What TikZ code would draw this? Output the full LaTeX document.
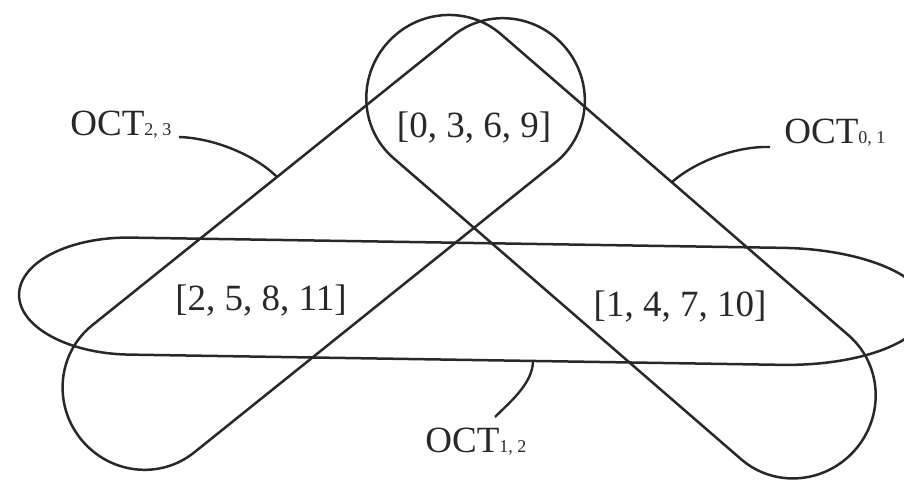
\documentclass[tikz,border=0pt]{standalone}
\usepackage{fontspec}
\setmainfont{Liberation Serif}
\usepackage{xcolor}
\definecolor{ink}{RGB}{40, 40, 40}
\usepackage{tikz}
\usetikzlibrary{calc}

\newcommand{\octsub}[1]{{\fontsize{9}{10}\selectfont #1}}

\begin{document}
\begin{tikzpicture}[
    x=0.5pt, y=-0.5pt,
    loopline/.style={draw=ink, line width=1.25pt},
    setlabel/.style={font=\fontsize{18.5}{20}\selectfont, text=ink, inner sep=0pt},
    octlabel/.style={font=\fontsize{18.5}{20}\selectfont, text=ink, inner sep=0pt, anchor=base west},
    leader/.style={draw=ink, line width=1.2pt}
]
\useasboundingbox (0,0) rectangle (904,481);

% 1. OCT_{2,3} loop (towards bottom left)
\begin{scope}[shift={(323.7,244)}, rotate=38.75]
\draw[loopline] (-231.5,-81.5) -- (231.5,-81.5)
    arc[start angle=-90, end angle=90, x radius=80, y radius=81.5]
    -- (-231.5,81.5)
    arc[start angle=90, end angle=270, x radius=80, y radius=81.5] -- cycle;
\end{scope}

% 2. OCT_{0,1} loop (towards bottom right)
\begin{scope}[shift={(622.5,248)}, rotate=-40.9]
\draw[loopline] (-232,-82) -- (228,-82)
    arc[start angle=-90, end angle=90, x radius=80, y radius=82]
    -- (-232,82)
    arc[start angle=90, end angle=270, x radius=80, y radius=82] -- cycle;
\end{scope}

% 3. OCT_{1,2} loop (horizontal)
\begin{scope}[shift={(473,301.5)}, rotate=-0.9]
\draw[loopline] (-343,-58.5) -- (309,-58.5)
    arc[start angle=-90, end angle=90, x radius=145, y radius=58.5]
    -- (-343,58.5)
    arc[start angle=90, end angle=270, x radius=111, y radius=58.5] -- cycle;
\end{scope}

% Sets in the regions
\node[setlabel] (s0369) at (474,128) {[0, 3, 6, 9]};
\node[setlabel] (s25811) at (261,301) {[2, 5, 8, 11]};
\node[setlabel] (s14710) at (680,306.5) {[1, 4, 7, 10]};

% Loop names
\node[octlabel] (oct23) at (70,135) {OCT\octsub{2, 3}};
\node[octlabel] (oct01) at (784,143) {OCT\octsub{0, 1}};
\node[octlabel] (oct12) at (425,452) {OCT\octsub{1, 2}};

% Leaders to the loops
\coordinate (e23) at (277,177);
\coordinate (e01) at (672,182);
\coordinate (e12) at (533,362);
\draw[leader] ([shift={(7,2)}]oct23.base east) .. controls +(35,1) and +(-22,-22) .. (e23);
\draw[leader] ([shift={(-14,4)}]oct01.base west) .. controls +(-35,-1) and +(23,-20) .. (e01);
\draw[leader] ([shift={(70,-35)}]oct12.base west) .. controls +(15,-15) and +(-1,22) .. (e12);

\end{tikzpicture}
\end{document}
